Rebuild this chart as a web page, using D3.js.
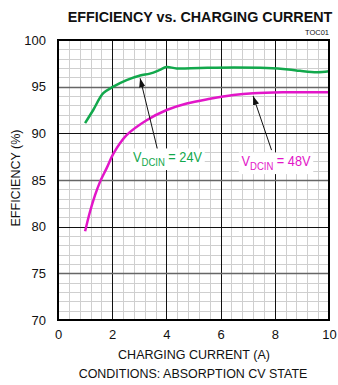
<!DOCTYPE html>
<html>
<head>
<meta charset="utf-8">
<script src="https://cdn.jsdelivr.net/npm/d3@7"></script>
<style>
  html, body { margin: 0; padding: 0; background: #fff; }
  svg { display: block; }
  text { font-family: "Liberation Sans", Arial, sans-serif; fill: #111; }
</style>
</head>
<body>
<svg id="chart" width="338" height="385"></svg>
<script>
// Efficiency vs. charging current, absorption CV state
const current24 = [1.0, 1.3, 1.67, 2.04, 2.53, 3.03, 3.39, 3.76, 4.0, 4.38, 5.24, 6.5, 7.7, 8.5, 8.93, 9.55, 10.0];
const eff24     = [91.1, 92.5, 94.3, 95.0, 95.7, 96.2, 96.4, 96.8, 97.1, 96.95, 97.0, 97.05, 97.0, 96.85, 96.7, 96.55, 96.65];

const current48 = [1.0, 1.18, 1.37, 1.55, 1.8, 2.04, 2.53, 3.27, 4.01, 4.75, 5.61, 6.47, 7.2, 8.31, 10.0];
const eff48     = [79.5, 81.6, 83.4, 84.8, 86.3, 87.8, 89.8, 91.4, 92.5, 93.2, 93.7, 94.1, 94.3, 94.4, 94.4];

const xTicks = [0, 2, 4, 6, 8, 10];
const yTicks = [70, 75, 80, 85, 90, 95, 100];

const svg = d3.select("#chart");
const plotLeft = 58, plotRight = 329, plotTop = 40, plotBottom = 320;

const x = d3.scaleLinear().domain([0, 10]).range([plotLeft, plotRight]);
const y = d3.scaleLinear().domain([70, 100]).range([plotBottom, plotTop]);

// minor grid
const minorX = d3.range(0, 10.001, 0.4).filter(v => Math.abs(v / 2 - Math.round(v / 2)) > 1e-6);
const minorY = d3.range(70, 100.001, 1).filter(v => v % 5 !== 0);
const grid = svg.append("g");
grid.selectAll("line.mx").data(minorX).join("line")
  .attr("x1", d => Math.round(x(d)) + 0.5).attr("x2", d => Math.round(x(d)) + 0.5)
  .attr("y1", plotTop).attr("y2", plotBottom)
  .attr("stroke", "#cfcfcf").attr("stroke-width", 1);
grid.selectAll("line.my").data(minorY).join("line")
  .attr("y1", d => Math.round(y(d)) + 0.5).attr("y2", d => Math.round(y(d)) + 0.5)
  .attr("x1", plotLeft).attr("x2", plotRight)
  .attr("stroke", "#cfcfcf").attr("stroke-width", 1);

// major grid
grid.selectAll("line.Mx").data(xTicks.slice(1, -1)).join("line")
  .attr("x1", d => Math.round(x(d)) + 0.5).attr("x2", d => Math.round(x(d)) + 0.5)
  .attr("y1", plotTop).attr("y2", plotBottom)
  .attr("stroke", "#111").attr("stroke-width", 1);
grid.selectAll("line.My").data(yTicks.slice(1, -1)).join("line")
  .attr("y1", d => Math.round(y(d)) + 0.5).attr("y2", d => Math.round(y(d)) + 0.5)
  .attr("x1", plotLeft).attr("x2", plotRight)
  .attr("stroke", d => d % 10 === 0 ? "#111" : "#666").attr("stroke-width", d => d % 10 === 0 ? 1 : 1.5);

// axes (labels only, frame drawn separately)
const xAxis = svg.append("g").attr("transform", `translate(0,${plotBottom})`)
  .call(d3.axisBottom(x).tickValues(xTicks).tickSize(0).tickPadding(10));
const yAxis = svg.append("g").attr("transform", `translate(${plotLeft},0)`)
  .call(d3.axisLeft(y).tickValues(yTicks).tickSize(0).tickPadding(12));
[xAxis, yAxis].forEach(a => {
  a.select(".domain").remove();
  a.selectAll("text").attr("font-size", 13)
    .attr("font-family", "'Liberation Sans', Arial, sans-serif")
    .attr("fill", "#111");
});

// curves
const line = d3.line().x(d => x(d[0])).y(d => y(d[1])).curve(d3.curveCatmullRom.alpha(0.5));
svg.append("path").datum(d3.zip(current24, eff24))
  .attr("d", line).attr("fill", "none").attr("stroke", "#12a84c").attr("stroke-width", 2.5);
svg.append("path").datum(d3.zip(current48, eff48))
  .attr("d", line).attr("fill", "none").attr("stroke", "#e216c8").attr("stroke-width", 2.5);

// frame
svg.append("rect").attr("x", plotLeft).attr("y", plotTop)
  .attr("width", plotRight - plotLeft).attr("height", plotBottom - plotTop)
  .attr("fill", "none").attr("stroke", "#000").attr("stroke-width", 2);

// annotation arrows
const defs = svg.append("defs");
defs.append("marker").attr("id", "ah").attr("viewBox", "0 0 10 10")
  .attr("refX", 10).attr("refY", 5).attr("markerWidth", 9).attr("markerHeight", 9)
  .attr("orient", "auto").attr("markerUnits", "userSpaceOnUse")
  .append("path").attr("d", "M0,1.5 L10,5 L0,8.5 Z").attr("fill", "#111");

function arrow(x0, y0, x1, y1) {
  svg.append("line")
    .attr("x1", x(x0)).attr("y1", y(y0)).attr("x2", x(x1)).attr("y2", y(y1))
    .attr("stroke", "#111").attr("stroke-width", 1).attr("marker-end", "url(#ah)");
}
arrow(3.69, 88.05, 3.03, 95.9);
arrow(7.88, 88.2, 7.2, 94.0);

// text squeezed horizontally to a given width (condensed lettering)
function condensed(parent, cx, cy, width, rotate) {
  const g = parent.append("g");
  const t = g.append("text").attr("text-anchor", "middle");
  const fit = () => {
    const w = t.node().getComputedTextLength();
    const sx = Math.min(1, width / w);
    g.attr("transform", `translate(${cx},${cy})${rotate ? " rotate(-90)" : ""} scale(${sx},1)`);
    return g;
  };
  return { g, t, fit };
}

function label(cx, cy, color, value, width) {
  const c = condensed(svg, cx, cy, width, false);
  c.t.attr("font-size", 14).style("fill", color);
  c.t.append("tspan").text("V");
  c.t.append("tspan").attr("font-size", 10.5).attr("dy", 4).text("DCIN");
  c.t.append("tspan").attr("dy", -4).text(" = " + value);
  c.fit();
  const b = c.t.node().getBBox();
  c.g.insert("rect", "text").attr("x", b.x - 3).attr("y", b.y - 1)
    .attr("width", b.width + 6).attr("height", b.height + 3).attr("fill", "#fff");
}
label(167.5, 162, "#12a84c", "24V", 69);
label(276, 166, "#e216c8", "48V", 69);

// titles
function caption(cx, cy, width, size, text, opts = {}) {
  const c = condensed(svg, cx, cy, width, opts.rotate);
  c.t.attr("font-size", size).attr("font-weight", opts.bold ? "bold" : null).text(text);
  c.fit();
}
caption(200, 22, 265, 15, "EFFICIENCY vs. CHARGING CURRENT", { bold: true });
svg.append("text").attr("x", 329).attr("y", 35).attr("text-anchor", "end")
  .attr("font-size", 7.5).text("TOC01");
caption(194, 359, 152, 13.5, "CHARGING CURRENT (A)");
caption(193, 378, 229, 13.5, "CONDITIONS: ABSORPTION CV STATE");
caption(20, 178, 97, 13.5, "EFFICIENCY (%)", { rotate: true });
</script>
</body>
</html>
